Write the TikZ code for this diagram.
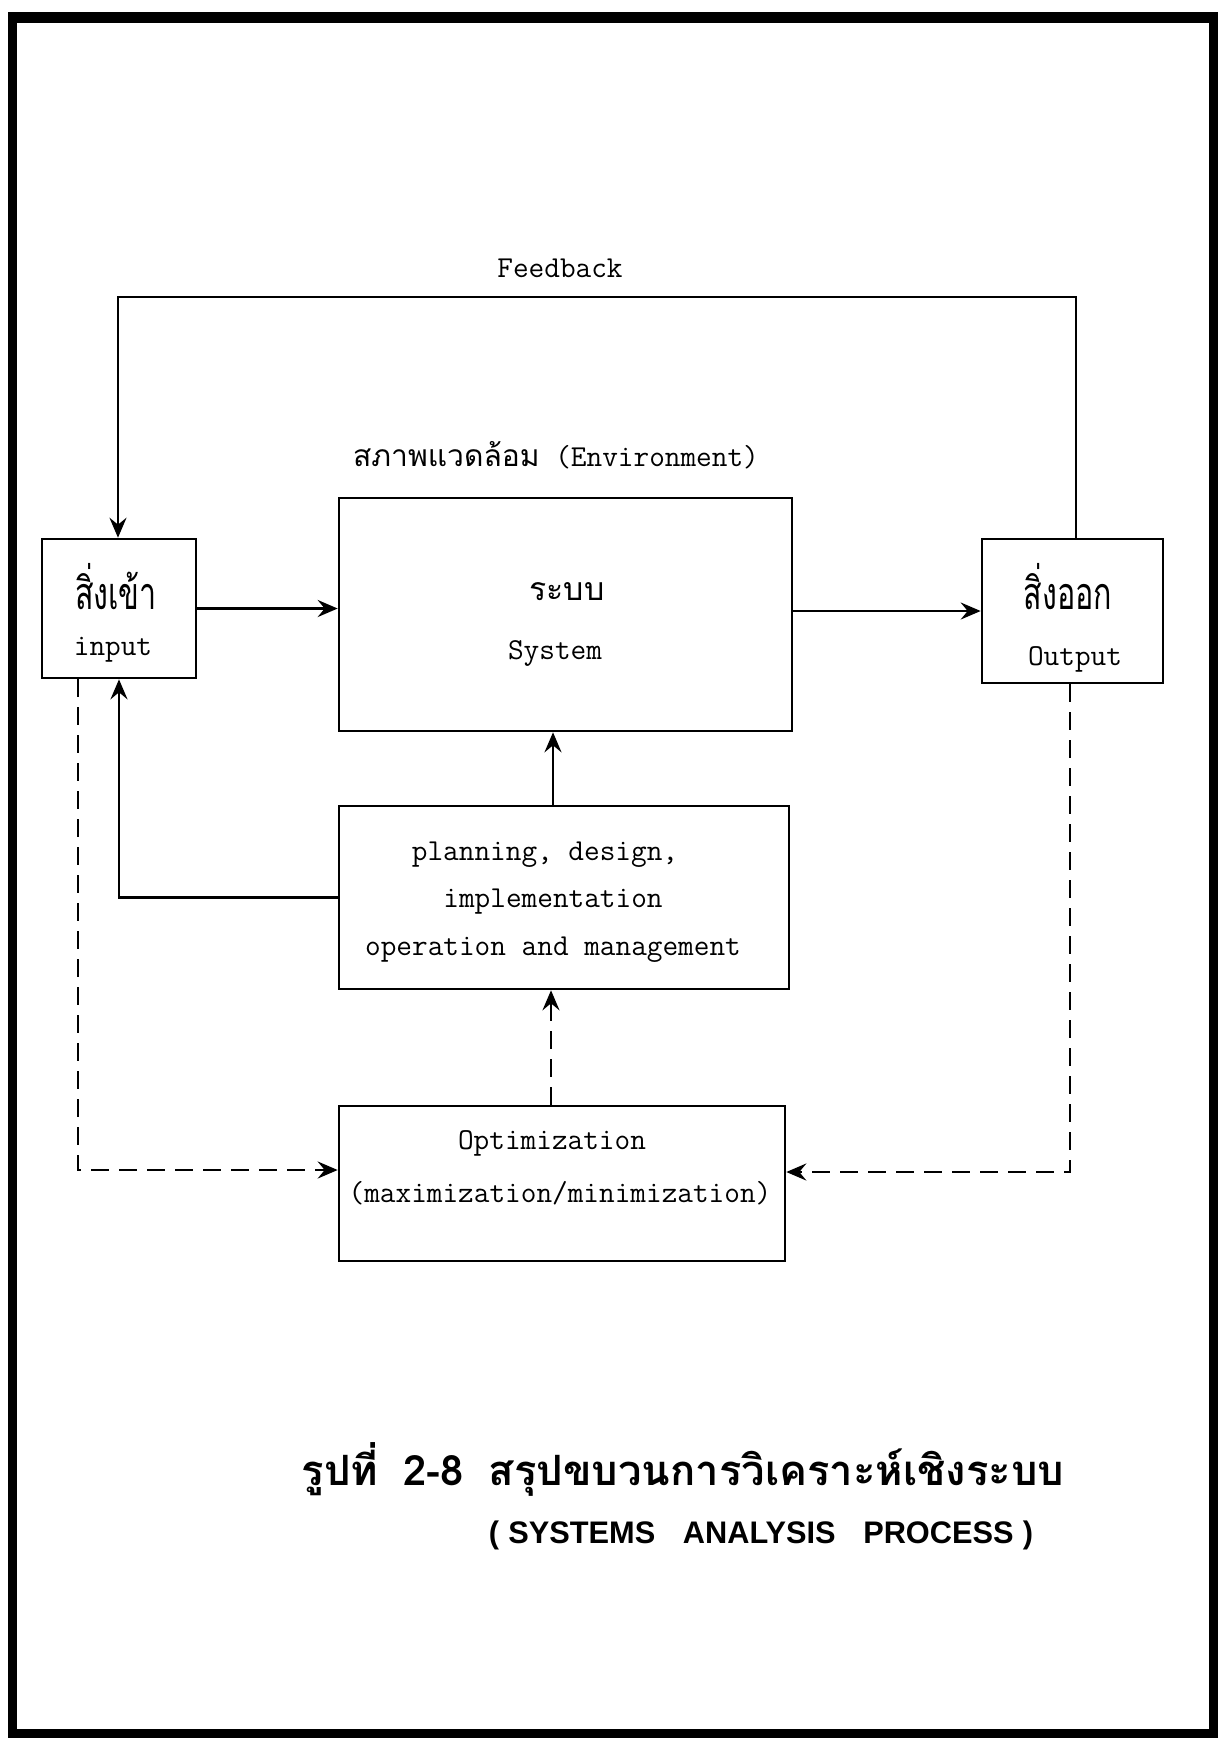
\documentclass[tikz,border=0pt]{standalone}
\usepackage{fontspec}
\usepackage{graphicx}
\usetikzlibrary{arrows.meta}
\newfontfamily\thai[Script=Thai]{Loma}
\newfontfamily\capsans{Liberation Sans}
\begin{document}
\begin{tikzpicture}[x=0.5pt,y=-0.5pt,
  box/.style={draw, line width=1.3pt, inner sep=0pt},
  lbl/.style={inner sep=0pt, font=\ttfamily\fontsize{15.2}{18}\selectfont},
  thlbl/.style={inner sep=0pt, font=\thai\fontsize{16}{18}\selectfont},
  conn/.style={line width=1.3pt},
  tip/.style={-{Stealth[length=10pt,width=8.5pt,inset=3.5pt]}},
  arr/.style={conn, tip},
  dsh/.style={conn, dash pattern=on 9pt off 5pt, tip}]
\useasboundingbox (0,0) rectangle (1229,1742);
\fill[white] (0,0) rectangle (1229,1742);
\draw[line width=4.5pt] (12,16) rectangle (1213,1733);
\draw[line width=5.5pt] (10,17) -- (1215,17);

% boxes
\node[box, minimum width=77pt, minimum height=69.5pt] (inp) at (119,608.5) {};
\node[box, minimum width=226.5pt, minimum height=116.5pt] (sys) at (565.5,614.5) {};
\node[box, minimum width=90.5pt, minimum height=72pt] (out) at (1072.5,611) {};
\node[box, minimum width=225pt, minimum height=91.5pt] (plan) at (564,897.5) {};
\node[box, minimum width=223pt, minimum height=77.5pt] (opt) at (562,1183.5) {};

% labels
\node[lbl] (fbt) at (560,268) {Feedback};
\node[lbl, anchor=base] (env) at (556,466) {{\thai\fontsize{15}{18}\selectfont สภาพแวดล้อม} (Environment)};
\node[thlbl] (inth) at (116,587) {\scalebox{0.95}[1.4]{สิ่งเข้า}};
\node[lbl] (int) at (113,650) {input};
\node[thlbl] (outh) at (1068,587) {\scalebox{0.95}[1.4]{สิ่งออก}};
\node[lbl] (outt) at (1075,659) {Output};
\node[thlbl] (systh) at (567,592) {ระบบ};
\node[lbl] (syst) at (555,653) {System};
\node[lbl] (pl1) at (545,855) {planning, design,};
\node[lbl] (pl2) at (553,902) {implementation};
\node[lbl] (pl3) at (553,950) {operation and management};
\node[lbl] (op1) at (552,1143) {Optimization};
\node[lbl] (op2) at (560,1193) {(maximization/minimization)};

% caption
\node[inner sep=0pt] (cap1) at (683,1469) {\resizebox{381pt}{!}{\thai\bfseries รูปที่\hspace{0.6em}2-8\hspace{0.6em}สรุปขบวนการวิเคราะห์เชิงระบบ}};
\node[inner sep=0pt] (cap2) at (761,1535) {\resizebox{272pt}{11.3pt}{\capsans\bfseries (\hspace{0.3em}SYSTEMS\hspace{0.9em}ANALYSIS\hspace{0.9em}PROCESS\hspace{0.3em})}};

% connectors
\coordinate (fbR) at (1076,297);
\coordinate (fbL) at (118,297);
\draw[arr] (out.north -| fbR) -- (fbR) -- (fbL) -- (fbL |- inp.north);
\draw[arr] (inp.east) -- (inp.east -| sys.west);
\draw[arr] (out.west -| sys.east) -- (out.west);
\draw[arr] ([xshift=-5.5pt]plan.north) -- ([xshift=-5.5pt]plan.north |- sys.south);
\draw[arr] (plan.west) -| (inp.south);
\draw[dsh] ([xshift=-5.5pt]opt.north) -- ([xshift=-5.5pt]opt.north |- plan.south);
\coordinate (dl) at (78,1170);
\coordinate (dr) at (1070,1172);
\draw[dsh] (inp.south -| dl) -- (dl) -- (dl -| opt.west);
\draw[dsh] (out.south -| dr) -- (dr) -- (dr -| opt.east);
\end{tikzpicture}
\end{document}
